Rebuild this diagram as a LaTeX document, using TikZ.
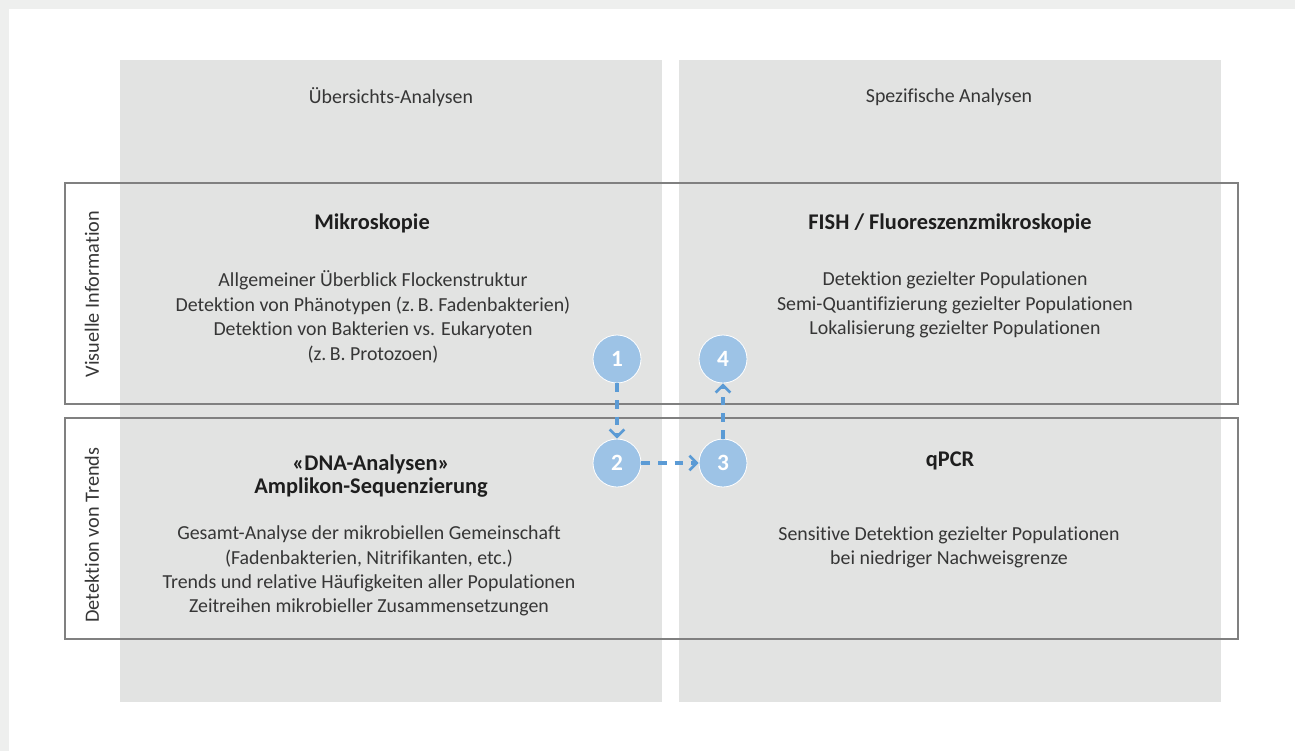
\documentclass[tikz,border=0pt]{standalone}
\usepackage{fontspec}
\setmainfont{Carlito}[Ligatures={NoCommon}]
\usetikzlibrary{arrows.meta}
\definecolor{frame}{HTML}{EEEFEE}
\definecolor{colgray}{HTML}{E2E3E2}
\definecolor{boxline}{HTML}{808080}
\definecolor{txt}{HTML}{363636}
\definecolor{ttl}{HTML}{1E1E1E}
\definecolor{circ}{HTML}{9DC3E6}
\definecolor{arr}{HTML}{5B9BD5}
\begin{document}
\begin{tikzpicture}[x=0.75pt,y=-0.75pt,
  body/.style={font=\fontsize{14.9}{18.3}\selectfont, text=txt, align=center, inner sep=0pt},
  ttlstyle/.style={font=\fontsize{16.8}{17.5}\selectfont\bfseries, text=ttl, align=center, inner sep=0pt},
  rowlab/.style={font=\fontsize{15.2}{18}\selectfont, text=txt, rotate=90, inner sep=0pt},
  rowbox/.style={draw=boxline, line width=1.1pt},
  num/.style={circle, fill=circ, draw=white, line width=0.6pt, minimum size=36pt, inner sep=0pt, text=white, font=\fontsize{17.5}{18}\selectfont\bfseries},
  flow/.style={draw=arr, line width=2.3pt, dash pattern=on 6.5pt off 6pt, -{Straight Barb[length=5.5pt,width=11pt,line width=2pt]}}
]
\fill[frame] (0,0) rectangle (1295,751);
\fill[white] (9,9) rectangle (1295,751);
\useasboundingbox (0,0) rectangle (1295,751);
% columns
\fill[colgray] (120,60) rectangle (662,702);
\fill[colgray] (679,60) rectangle (1221,702);
% row boxes
\draw[rowbox] (65,183) rectangle (1238,404);
\draw[rowbox] (65,418) rectangle (1238,639);
% headers
\node[body] (h1) at (391,97) {Übersichts-Analysen};
\node[body] (h2) at (949,97) {Spezifische Analysen};
% row labels
\node[rowlab] (r1) at (92,294) {Visuelle Information};
\node[rowlab] (r2) at (92,535) {Detektion von Trends};
% top left
\node[ttlstyle] (t1) at (372,223) {Mikroskopie};
\node[body] (b1) at (373,317) {Allgemeiner Überblick Flockenstruktur\\Detektion von Phänotypen (z.\,B. Fadenbakterien)\\Detektion von Bakterien vs. Eukaryoten\\(z.\,B. Protozoen)};
% top right
\node[ttlstyle] (t2) at (950,223) {FISH / Fluoreszenzmikroskopie};
\node[body] (b2) at (955,305) {Detektion gezielter Populationen\\Semi-Quantifizierung gezielter Populationen\\Lokalisierung gezielter Populationen};
% bottom left
\node[ttlstyle] (t3) at (371,476) {«DNA-Analysen»\\Amplikon-Sequenzierung};
\node[body] (b3) at (369,571) {Gesamt-Analyse der mikrobiellen Gemeinschaft\\(Fadenbakterien, Nitrifikanten, etc.)\\Trends und relative Häufigkeiten aller Populationen\\Zeitreihen mikrobieller Zusammensetzungen};
% bottom right
\node[ttlstyle] (t4) at (950,461) {qPCR};
\node[body] (b4) at (949,547) {Sensitive Detektion gezielter Populationen\\bei niedriger Nachweisgrenze};
% circles
\node[num] (c1) at (617,359) {1};
\node[num] (c2) at (617,463) {2};
\node[num] (c3) at (723,463) {3};
\node[num] (c4) at (723,359) {4};
% arrows
\draw[flow] (c1) -- (c2);
\draw[flow] (c2) -- (c3);
\draw[flow] (c3) -- (c4);
\end{tikzpicture}
\end{document}
